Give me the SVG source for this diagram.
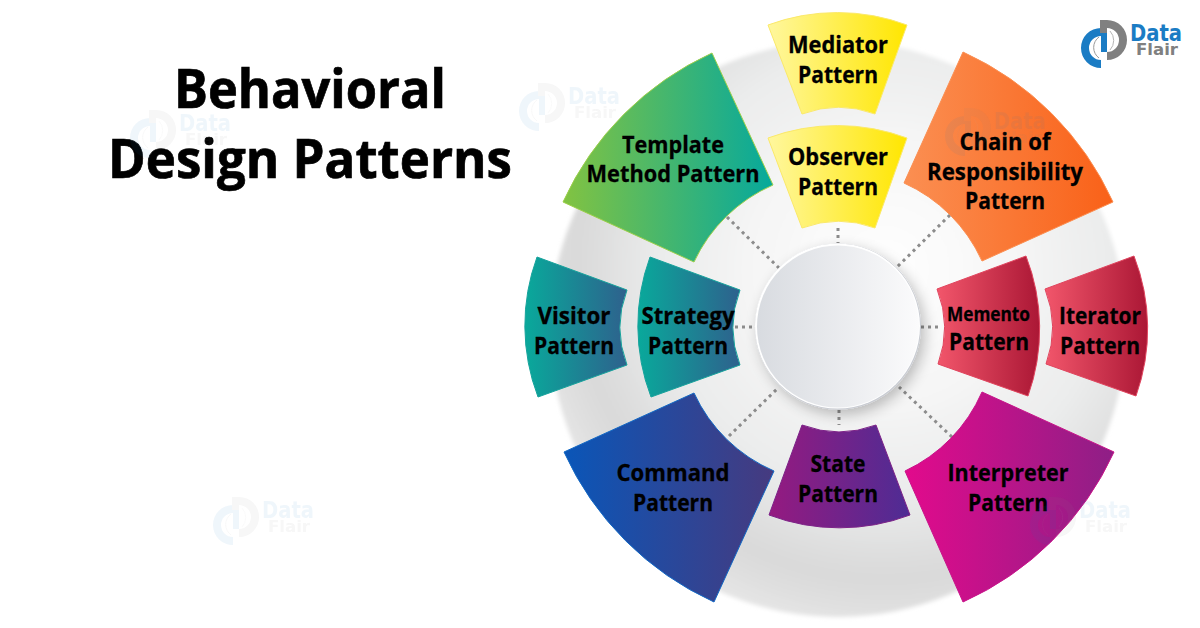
<svg xmlns="http://www.w3.org/2000/svg" xmlns:xlink="http://www.w3.org/1999/xlink" width="1200" height="628" viewBox="0 0 1200 628">
  <style>
    .lbl { font-family: "Open Sans", "Liberation Sans", sans-serif; font-weight: 700; font-size: 23px; fill: #000; stroke: #000; stroke-width: 0.3; text-anchor: middle; }
    .title { font-family: "Open Sans", "Liberation Sans", sans-serif; font-weight: 700; font-size: 53px; fill: #000; stroke: #000; stroke-width: 0.7; text-anchor: middle; }
    .link { fill: none; stroke: #8c8c8c; stroke-width: 3; stroke-dasharray: 3 4; }
    .brand { font-family: "DejaVu Sans", "Liberation Sans", sans-serif; font-weight: 700; }
    .sector { stroke-width: 1; stroke-linejoin: miter; }
  </style>
  <defs>
    <radialGradient id="discFill" gradientUnits="userSpaceOnUse" cx="885" cy="270" r="360">
      <stop offset="0" stop-color="#ffffff"/>
      <stop offset="0.38" stop-color="#f5f5f5"/>
      <stop offset="0.62" stop-color="#ebecec"/>
      <stop offset="0.86" stop-color="#d9d9d9"/>
      <stop offset="1" stop-color="#e5e5e5"/>
    </radialGradient>
    <linearGradient id="hubFill" x1="0" y1="0" x2="1" y2="0">
      <stop offset="0" stop-color="#d8dbe0"/>
      <stop offset="1" stop-color="#fbfbfc"/>
    </linearGradient>
    <linearGradient id="gGreen" x1="0" y1="0" x2="1" y2="0"><stop offset="0" stop-color="#82c341"/><stop offset="1" stop-color="#06a99c"/></linearGradient>
    <linearGradient id="gOrange" x1="0" y1="0" x2="1" y2="0"><stop offset="0" stop-color="#fb8f52"/><stop offset="1" stop-color="#f96118"/></linearGradient>
    <linearGradient id="gYellow" x1="0" y1="0" x2="1" y2="0"><stop offset="0" stop-color="#fff79e"/><stop offset="1" stop-color="#ffe600"/></linearGradient>
    <linearGradient id="gTeal" x1="0" y1="0" x2="1" y2="0"><stop offset="0" stop-color="#09a99b"/><stop offset="1" stop-color="#2e618d"/></linearGradient>
    <linearGradient id="gRed" x1="0" y1="0" x2="1" y2="0"><stop offset="0" stop-color="#f2566b"/><stop offset="1" stop-color="#ab1735"/></linearGradient>
    <linearGradient id="gBlue" x1="0" y1="0" x2="1" y2="0"><stop offset="0" stop-color="#0a56b8"/><stop offset="1" stop-color="#463a7f"/></linearGradient>
    <linearGradient id="gPurple" x1="0" y1="0" x2="1" y2="0"><stop offset="0" stop-color="#951a80"/><stop offset="1" stop-color="#4e2c94"/></linearGradient>
    <linearGradient id="gMagenta" x1="0" y1="0" x2="1" y2="0"><stop offset="0" stop-color="#e20a8c"/><stop offset="1" stop-color="#8e1f86"/></linearGradient>
    <filter id="discSoft" x="-5%" y="-5%" width="110%" height="110%">
      <feGaussianBlur stdDeviation="2"/>
    </filter>
    <filter id="hubShadow" x="-30%" y="-30%" width="160%" height="160%">
      <feGaussianBlur in="SourceAlpha" stdDeviation="7"/>
      <feOffset dx="4" dy="5"/>
      <feComponentTransfer><feFuncA type="linear" slope="0.25"/></feComponentTransfer>
      <feMerge><feMergeNode/><feMergeNode in="SourceGraphic"/></feMerge>
    </filter>
    <!-- brand mark, drawn in the page position of the corner logo -->
    <g id="brandMark">
      <path fill="#1b7cc4" d="M1101,28 H1107 V52 H1101 V36 A12,12 0 0 0 1101,60 V68 A20,20 0 0 1 1101,28 Z"/>
      <path fill="#808080" d="M1100,20 H1107 A20,20 0 0 1 1107,60 V52 A12,12 0 0 0 1107,28 V33 H1100 Z"/>
      <path fill="none" stroke="#9a9a9a" stroke-width="1" d="M1099,37 A13,13 0 0 0 1099,58"/>
      <path fill="none" stroke="#b5b5b5" stroke-width="1" d="M1110,31 A14,14 0 0 1 1110,50"/>
      <text class="brand" x="1130" y="41" font-size="23" fill="#1b7cc4" textLength="52" lengthAdjust="spacingAndGlyphs">Data</text>
      <text class="brand" x="1136" y="55" font-size="16" fill="#808080" textLength="42" lengthAdjust="spacingAndGlyphs">Flair</text>
    </g>
  </defs>

  <rect width="1200" height="628" fill="#ffffff"/>

  <g id="title">
    <text class="title" x="310" y="108" textLength="272" lengthAdjust="spacingAndGlyphs">Behavioral</text>
    <text class="title" x="310" y="178" textLength="404" lengthAdjust="spacingAndGlyphs">Design Patterns</text>
  </g>

  <g id="backplate">
    <circle cx="838" cy="329" r="288" fill="url(#discFill)" filter="url(#discSoft)"/>
  </g>

  <!-- dotted spokes from the hub out to the inner ring -->
  <g id="connectors">
    <path class="link" d="M838,228 V243"/>
    <path class="link" d="M839,410 V425"/>
    <path class="link" d="M735,327 H756"/>
    <path class="link" d="M921,327 H938"/>
    <path class="link" d="M727,217 L779,268"/>
    <path class="link" d="M950,215 L897,267"/>
    <path class="link" d="M729,436 L779,387"/>
    <path class="link" d="M952,437 L899,387"/>
  </g>

  <g id="hub">
    <circle cx="838" cy="326.5" r="83" fill="#c9ccd3" filter="url(#hubShadow)"/>
    <circle cx="837.5" cy="326" r="82.5" fill="#ffffff"/>
    <circle cx="838" cy="326.5" r="81" fill="url(#hubFill)"/>
  </g>

  <g id="node-mediator">
    <path class="sector" fill="url(#gYellow)" stroke="#fbe96a" d="M768,25 A200,200 0 0 1 907,25 L875,114 A105,105 0 0 0 802,114 Z"/>
    <text class="lbl" x="838" y="53" textLength="100" lengthAdjust="spacingAndGlyphs">Mediator</text>
    <text class="lbl" x="838" y="83" textLength="80" lengthAdjust="spacingAndGlyphs">Pattern</text>
  </g>
  <g id="node-observer">
    <path class="sector" fill="url(#gYellow)" stroke="#fbe96a" d="M768,138 A200,200 0 0 1 907,138 L875,228 A105,105 0 0 0 802,228 Z"/>
    <text class="lbl" x="838" y="165" textLength="100" lengthAdjust="spacingAndGlyphs">Observer</text>
    <text class="lbl" x="838" y="195" textLength="80" lengthAdjust="spacingAndGlyphs">Pattern</text>
  </g>
  <g id="node-template">
    <path class="sector" fill="url(#gGreen)" stroke="#9ccf4a" d="M563,202 A302,302 0 0 1 712,53 L773,185 A156,156 0 0 0 694,262 Z"/>
    <text class="lbl" x="673" y="153" textLength="102" lengthAdjust="spacingAndGlyphs">Template</text>
    <text class="lbl" x="673" y="182" textLength="173" lengthAdjust="spacingAndGlyphs">Method Pattern</text>
  </g>
  <g id="node-chain">
    <path class="sector" fill="url(#gOrange)" stroke="#fb8f52" d="M963,52 A302,302 0 0 1 1113,202 L982,261 A156,156 0 0 0 904,183 Z"/>
    <text class="lbl" x="1005" y="150" textLength="91" lengthAdjust="spacingAndGlyphs">Chain of</text>
    <text class="lbl" x="1005" y="180" textLength="156" lengthAdjust="spacingAndGlyphs">Responsibility</text>
    <text class="lbl" x="1005" y="209" textLength="80" lengthAdjust="spacingAndGlyphs">Pattern</text>
  </g>
  <g id="node-visitor">
    <path class="sector" fill="url(#gTeal)" stroke="#17a39c" d="M537,257 L627,290 A105,105 0 0 0 627,365 L538,397 A200,200 0 0 1 537,257 Z"/>
    <text class="lbl" x="574" y="324" textLength="73" lengthAdjust="spacingAndGlyphs">Visitor</text>
    <text class="lbl" x="574" y="354" textLength="80" lengthAdjust="spacingAndGlyphs">Pattern</text>
  </g>
  <g id="node-strategy">
    <path class="sector" fill="url(#gTeal)" stroke="#17a39c" d="M650,257 L740,290 A105,105 0 0 0 740,365 L651,397 A200,200 0 0 1 650,257 Z"/>
    <text class="lbl" x="688" y="324" textLength="93" lengthAdjust="spacingAndGlyphs">Strategy</text>
    <text class="lbl" x="688" y="354" textLength="80" lengthAdjust="spacingAndGlyphs">Pattern</text>
  </g>
  <g id="node-memento">
    <path class="sector" fill="url(#gRed)" stroke="#e0455e" d="M1026,256 A200,200 0 0 1 1028,396 L938,364 A105,105 0 0 0 937,289 Z"/>
    <text class="lbl" x="988.500" y="321" style="font-size:19px" textLength="83" lengthAdjust="spacingAndGlyphs">Memento</text>
    <text class="lbl" x="989" y="350" textLength="80" lengthAdjust="spacingAndGlyphs">Pattern</text>
  </g>
  <g id="node-iterator">
    <path class="sector" fill="url(#gRed)" stroke="#e0455e" d="M1134,256 A200,200 0 0 1 1136,396 L1046,364 A105,105 0 0 0 1045,289 Z"/>
    <text class="lbl" x="1100" y="324" textLength="82" lengthAdjust="spacingAndGlyphs">Iterator</text>
    <text class="lbl" x="1100" y="354" textLength="80" lengthAdjust="spacingAndGlyphs">Pattern</text>
  </g>
  <g id="node-command">
    <path class="sector" fill="url(#gBlue)" stroke="#1268c4" d="M564,452 A302,302 0 0 0 714,602 L774,471 A156,156 0 0 1 694,393 Z"/>
    <text class="lbl" x="673" y="481" textLength="113" lengthAdjust="spacingAndGlyphs">Command</text>
    <text class="lbl" x="673" y="511" textLength="80" lengthAdjust="spacingAndGlyphs">Pattern</text>
  </g>
  <g id="node-state">
    <path class="sector" fill="url(#gPurple)" stroke="#7d2388" d="M802,425 A105,105 0 0 0 876,425 L910,515 A200,200 0 0 1 769,515 Z"/>
    <text class="lbl" x="838" y="472" textLength="55" lengthAdjust="spacingAndGlyphs">State</text>
    <text class="lbl" x="838" y="502" textLength="80" lengthAdjust="spacingAndGlyphs">Pattern</text>
  </g>
  <g id="node-interpreter">
    <path class="sector" fill="url(#gMagenta)" stroke="#c8148a" d="M963,602 A302,302 0 0 0 1114,452 L982,392 A156,156 0 0 1 905,471 Z"/>
    <text class="lbl" x="1008" y="481" textLength="121" lengthAdjust="spacingAndGlyphs">Interpreter</text>
    <text class="lbl" x="1008" y="511" textLength="80" lengthAdjust="spacingAndGlyphs">Pattern</text>
  </g>

  <g id="logo">
    <use href="#brandMark" xlink:href="#brandMark"/>
  </g>
  <g id="watermarks" opacity="0.07">
    <use href="#brandMark" xlink:href="#brandMark" transform="translate(-951,90)"/>
    <use href="#brandMark" xlink:href="#brandMark" transform="translate(-562,63)"/>
    <use href="#brandMark" xlink:href="#brandMark" transform="translate(-136,88)"/>
    <use href="#brandMark" xlink:href="#brandMark" transform="translate(-868,477)"/>
    <use href="#brandMark" xlink:href="#brandMark" transform="translate(-51,477)"/>
  </g>
</svg>
